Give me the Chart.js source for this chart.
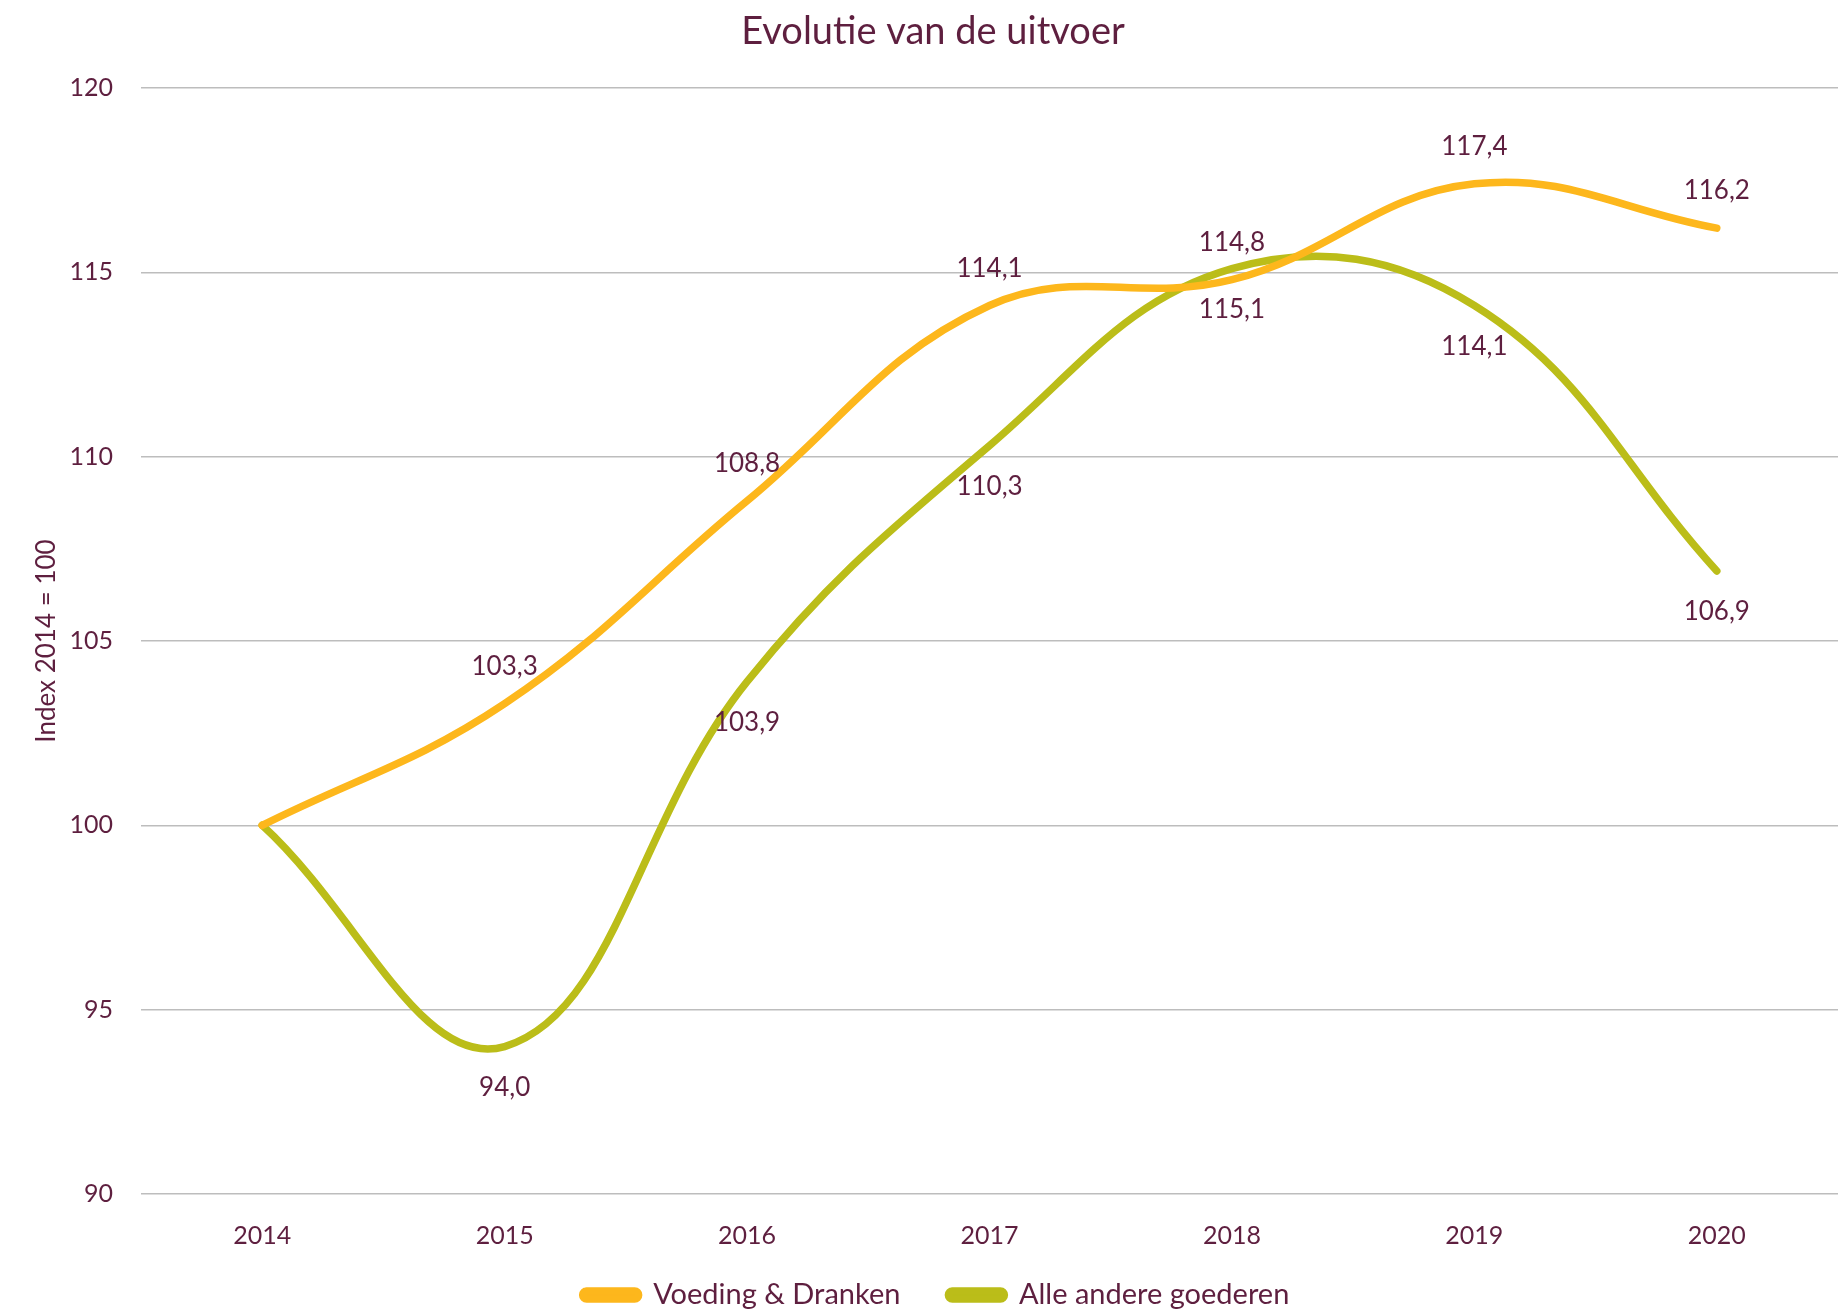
<!DOCTYPE html>
<html>
<head>
<meta charset="utf-8">
<script src="https://cdn.jsdelivr.net/npm/chart.js@4/dist/chart.umd.min.js"></script>
<style>
  html, body { margin: 0; padding: 0; background: #ffffff; }
  #wrap { width: 1838px; height: 1313px; position: relative; }
</style>
</head>
<body>
<div id="wrap"><canvas id="c" width="1838" height="1313"></canvas></div>
<script>
const years = ['2014', '2015', '2016', '2017', '2018', '2019', '2020'];
const voedingDranken = [100, 103.3, 108.8, 114.1, 114.8, 117.4, 116.2];
const alleAndere = [100, 94.0, 103.9, 110.3, 115.1, 114.1, 106.9];
const seriesNames = ['Voeding & Dranken', 'Alle andere goederen'];
const yTicks = [90, 95, 100, 105, 110, 115, 120];

const TEXT = '#5E1F3F';
const FONT = 'Lato, "Open Sans", sans-serif';

const fmt = v => v.toFixed(1).replace('.', ',');

const valueLabels = {
  id: 'valueLabels',
  afterDatasetsDraw(chart) {
    const ctx = chart.ctx;
    ctx.save();
    ctx.font = '26px ' + FONT;
    ctx.fillStyle = TEXT;
    ctx.textAlign = 'center';
    ctx.textBaseline = 'middle';
    chart.data.datasets.forEach((ds, di) => {
      const meta = chart.getDatasetMeta(di);
      meta.data.forEach((pt, i) => {
        if (i === 0) return;
        const off = di === 0 ? -37 : 41;
        ctx.fillText(fmt(ds.data[i]), pt.x, pt.y + off);
      });
    });
    ctx.restore();
  }
};

// layout tweaks: let x tick labels draw below the compact x scale box, nudge title and legend centre
const layoutTweaks = {
  id: 'layoutTweaks',
  afterLayout(chart) {
    chart.scales.x.bottom = chart.height + 20;
    if (chart.titleBlock) {
      chart.titleBlock.left = 28;
      chart.titleBlock.right = chart.width;
    }
    if (chart.legend) {
      chart.legend.left = 34;
      chart.legend.right = chart.width;
    }
  }
};

new Chart(document.getElementById('c'), {
  type: 'line',
  data: {
    labels: years,
    datasets: [
      {
        label: seriesNames[0],
        data: voedingDranken,
        borderColor: '#FDB71C',
        backgroundColor: '#FDB71C',
        borderWidth: 7.5,
        pointRadius: 0,
        tension: 0.4,
        borderCapStyle: 'round'
      },
      {
        label: seriesNames[1],
        data: alleAndere,
        borderColor: '#BBBD19',
        backgroundColor: '#BBBD19',
        borderWidth: 7.5,
        pointRadius: 0,
        tension: 0.4,
        borderCapStyle: 'round'
      }
    ]
  },
  options: {
    responsive: false,
    animation: false,
    devicePixelRatio: 1,
    layout: { padding: { top: 0, right: 0, bottom: -6.5, left: 0 } },
    plugins: {
      title: {
        display: true,
        text: 'Evolutie van de uitvoer',
        color: TEXT,
        font: { family: FONT, size: 38, weight: 'normal' },
        padding: { top: 9, bottom: 33.4 }
      },
      legend: {
        position: 'bottom',
        labels: {
          color: TEXT,
          font: { family: FONT, size: 29 },
          boxWidth: 56,
          boxHeight: 8,
          useBorderRadius: true,
          borderRadius: 4,
          padding: 48
        }
      },
      tooltip: { enabled: false }
    },
    scales: {
      x: {
        offset: true,
        grid: { display: false, drawTicks: false },
        border: { display: false },
        ticks: {
          color: TEXT,
          font: { family: FONT, size: 25 },
          padding: 27,
          maxRotation: 0
        },
        afterFit(scale) { scale.height = 38.5; }
      },
      y: {
        min: 90,
        max: 120,
        afterBuildTicks(scale) { scale.ticks = yTicks.map(v => ({ value: v })); },
        grid: { color: '#BDBDBD', lineWidth: 1.5, drawTicks: false },
        border: { display: false },
        ticks: {
          color: TEXT,
          font: { family: FONT, size: 25 },
          padding: 28
        },
        title: {
          display: true,
          text: 'Index 2014 = 100',
          color: TEXT,
          font: { family: FONT, size: 26 },
          padding: { top: 31, bottom: 0 }
        },
        afterFit(scale) { scale.width = 141; }
      }
    }
  },
  plugins: [valueLabels, layoutTweaks]
});
</script>
</body>
</html>
